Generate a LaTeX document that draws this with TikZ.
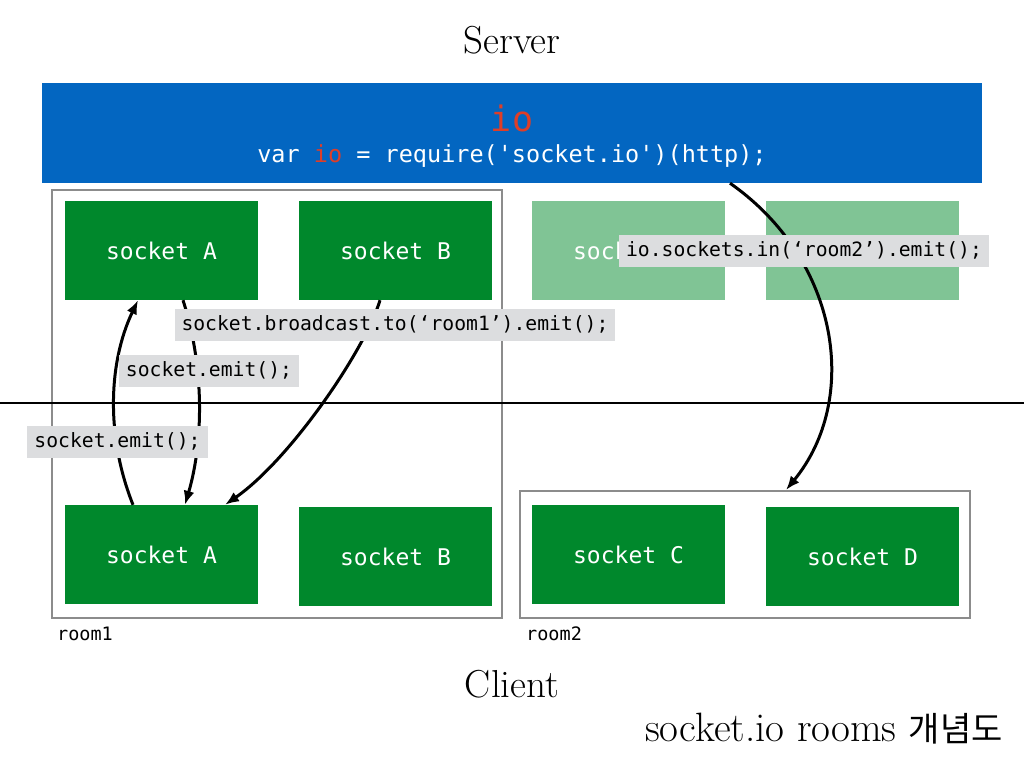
\documentclass[tikz,border=0pt]{standalone}
\usepackage{fontspec}
\setmonofont{DejaVu Sans Mono}
\newfontfamily\kofont{Noto Sans CJK KR}
\usetikzlibrary{arrows.meta}
\definecolor{iobar}{RGB}{3,102,193}
\definecolor{iored}{RGB}{222,62,40}
\definecolor{sockgreen}{RGB}{0,136,44}
\definecolor{sockfaded}{RGB}{128,196,149}
\definecolor{codegray}{RGB}{220,221,223}
\definecolor{roomgray}{RGB}{140,140,140}
\newcommand{\sizeto}[1]{\fontsize{#1}{#1}\selectfont}

\begin{document}
\begin{tikzpicture}[
      x=1pt, y=-1pt,
      every node/.style={inner sep=0pt},
      sock/.style={fill=sockgreen, text=white, minimum width=193pt, minimum height=99pt, font=\sizeto{23}\ttfamily},
      faded/.style={sock, fill=sockfaded},
      room/.style={draw=roomgray, line width=2pt},
      code/.style={fill=codegray, inner xsep=7pt, minimum height=32pt, text height=15pt, text depth=4pt, font=\sizeto{19.7}\ttfamily},
      msg/.style={-{Latex[length=14pt,width=11pt]}, line width=3pt},
      title/.style={font=\sizeto{39}}
    ]
      \fill[white] (0,0) rectangle (1024,768);
      \useasboundingbox (0,0) rectangle (1024,768);

      % Server side: the io object
      \node[title, anchor=base] (server) at (512,53) {Server};
      \node[fill=iobar, minimum width=940pt, minimum height=100pt] (io) at (512,133) {};
      \node[anchor=base, text=iored, font=\sizeto{35}\ttfamily] (ioname) at (512,131) {io};
      \node[anchor=base, text=white, font=\sizeto{23.5}\ttfamily] (iocode) at (512,162)
        {var \textcolor{iored}{io} = require('socket.io')(http);};

      % Draw the rooms and their sockets
      \node[room, minimum width=450pt, minimum height=428pt] (room1) at (277,404) {};
      \node[room, minimum width=450pt, minimum height=127pt] (room2) at (745,554.5) {};
      \node[anchor=base west, font=\sizeto{18.5}\ttfamily] (room1name) at (57,640) {room1};
      \node[anchor=base west, font=\sizeto{18.5}\ttfamily] (room2name) at (526,640) {room2};

      \node[sock] (topA) at (161.5,250.5) {socket A};
      \node[sock] (topB) at (395.5,250.5) {socket B};
      \node[faded] (topC) at (628.5,250.5) {socket C};
      \node[faded] (topD) at (862.5,250.5) {};
      \node[sock] (botA) at (161.5,554.5) {socket A};
      \node[sock] (botB) at (395.5,556.5) {socket B};
      \node[sock] (botC) at (628.5,554.5) {socket C};
      \node[sock] (botD) at (862.5,556.5) {socket D};

      % Server / client divider
      \draw[line width=2pt] (0,403) -- (1024,403);

      % Messages between the sockets
      \draw[msg] ([xshift=-28.5pt]botA.north) .. controls +(-26,-65) and +(-31,65) .. ([xshift=-23.5pt]topA.south);
      \draw[msg] ([xshift=21.5pt]topA.south) .. controls +(21,65) and +(19,-65) .. ([xshift=23.5pt]botA.north);
      \draw[msg] ([xshift=-15.5pt]topB.south) .. controls +(-15,50) and +(65,-45) .. ([xshift=63.5pt]botA.north);
      \draw[msg] ([xshift=218pt]io.south) .. controls +(110,77) and +(74,-90) .. ([xshift=41pt]room2.north);

      \node[code] (emitup) at (209,371) {socket.emit();};
      \node[code] (emitdown) at (117.5,441.5) {socket.emit();};
      \node[code] (bcast) at (395,325) {socket.broadcast.to(‘room1’).emit();};
      \node[code] (toroom) at (804,251) {io.sockets.in(‘room2’).emit();};

      % Client side
      \node[title, anchor=base] (client) at (512,697) {Client};
      \node[anchor=base east, font=\sizeto{41}] (caption) at (1003,741) {socket.io rooms {\kofont\sizeto{34}개념도}};
    \end{tikzpicture}
\end{document}
